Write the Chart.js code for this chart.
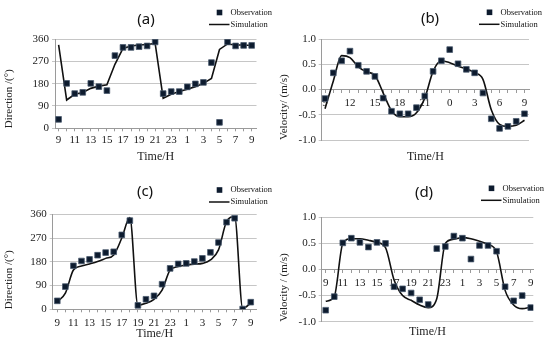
<!DOCTYPE html>
<html>
<head>
<meta charset="utf-8">
<script src="https://cdn.jsdelivr.net/npm/chart.js@4.4.0/dist/chart.umd.min.js"></script>
<style>
  html, body { margin: 0; padding: 0; background: #fff; }
  #wrap { position: relative; width: 550px; height: 352px; }
  canvas { position: absolute; }
</style>
</head>
<body>
<div id="wrap">
  <canvas id="chartA" width="275" height="176" style="left:0;top:0"></canvas>
  <canvas id="chartB" width="275" height="176" style="left:275px;top:0"></canvas>
  <canvas id="chartC" width="275" height="176" style="left:0;top:176px"></canvas>
  <canvas id="chartD" width="275" height="176" style="left:275px;top:176px"></canvas>
</div>
<script>
// hours from 9:00 to 9:00 next day
const hours = [9, 10, 11, 12, 13, 14, 15, 16, 17, 18, 19, 20, 21, 22, 23, 0, 1, 2, 3, 4, 5, 6, 7, 8, 9];

const yTicksDir = [0, 90, 180, 270, 360];
const yTicksVel = [-1.0, -0.5, 0.0, 0.5, 1.0];

// (a) direction
const obsA = [36, 181, 140, 145, 181, 168, 152, 293, 326, 326, 329, 332, 348, 140, 148, 148, 167, 179, 185, 265, 24, 348, 332, 334, 334];
const simA = [336, 114, 137, 144, 161, 170, 175, 258, 322, 332, 336, 338, 342, 121, 137, 148, 157, 168, 181, 201, 318, 340, 336, 336, 334];

// (b) velocity
const obsB = [-0.18, 0.33, 0.57, 0.76, 0.48, 0.36, 0.26, -0.17, -0.43, -0.48, -0.48, -0.36, -0.13, 0.36, 0.57, 0.79, 0.51, 0.40, 0.33, -0.07, -0.58, -0.77, -0.73, -0.63, -0.48];
const simB = [-0.38, 0.17, 0.67, 0.63, 0.45, 0.35, 0.28, -0.07, -0.42, -0.54, -0.54, -0.46, -0.17, 0.36, 0.57, 0.53, 0.46, 0.41, 0.33, 0.20, -0.40, -0.69, -0.73, -0.71, -0.61];

// (c) direction
const obsC = [32, 86, 165, 183, 189, 205, 215, 218, 282, 336, 15, 38, 51, 95, 155, 172, 174, 181, 193, 216, 253, 330, 345, 1, 27];
const simC = [29, 61, 149, 164, 172, 181, 193, 206, 270, 348, 16, 23, 38, 73, 149, 162, 168, 171, 174, 187, 225, 332, 351, 4, 23];

// (d) velocity
const obsD = [-0.78, -0.52, 0.51, 0.60, 0.52, 0.43, 0.52, 0.50, -0.33, -0.37, -0.45, -0.58, -0.67, 0.40, 0.44, 0.64, 0.60, 0.20, 0.46, 0.46, 0.35, -0.33, -0.60, -0.50, -0.73];
const simD = [-0.61, -0.52, 0.50, 0.59, 0.59, 0.56, 0.52, 0.42, -0.20, -0.50, -0.59, -0.68, -0.73, -0.56, 0.50, 0.58, 0.61, 0.59, 0.54, 0.48, 0.34, -0.40, -0.68, -0.75, -0.72];

const serif = '"Liberation Serif", "Times New Roman", serif';
const textColor = '#222';
const gridColor = '#c6c6c6';
const axisColor = '#9a9a9a';

// panel letter and the two-row legend in the top right corner
const decor = {
  id: 'decor',
  afterDraw(chart, args, o) {
    const ctx = chart.ctx;
    const ds = chart.data.datasets;
    ctx.save();
    ctx.fillStyle = '#111';
    ctx.textBaseline = 'middle';
    ctx.textAlign = 'center';
    ctx.font = '15px "Noto Sans"';
    ctx.fillText(o.title, o.tx, o.ty);

    ctx.textAlign = 'left';
    ctx.font = '8.5px ' + serif;
    ctx.fillStyle = '#0d1b2e';
    ctx.fillRect(o.lx + 10.5 - 2.8, o.ly - 2.8, 5.6, 5.6);
    ctx.fillStyle = '#111';
    ctx.fillText(ds[1].label, o.lx + 21.5, o.ly);
    ctx.strokeStyle = '#111';
    ctx.lineWidth = 1.5;
    ctx.beginPath();
    ctx.moveTo(o.lx, o.ly + 12);
    ctx.lineTo(o.lx + 20.5, o.ly + 12);
    ctx.stroke();
    ctx.fillText(ds[0].label, o.lx + 21.5, o.ly + 12);
    ctx.restore();
  }
};

function panel(id, p) {
  const vel = p.kind === 'vel';
  const xTicks = {
    autoSkip: false,
    maxRotation: 0,
    padding: p.xPad,
    color: textColor,
    font: { family: serif, size: 11 },
    callback: (v, i) => (i % p.step === 0 ? String(hours[i]) : '')
  };
  const scales = {
    x: {
      type: 'linear',
      min: p.xMin,
      max: p.xMax,
      afterBuildTicks: s => { s.ticks = hours.map((h, i) => ({ value: i })); },
      ticks: xTicks,
      grid: { drawOnChartArea: false, drawTicks: true, tickLength: 3, color: axisColor },
      border: { color: axisColor }
    },
    y: {
      min: vel ? -1 : 0,
      max: vel ? 1 : 360,
      afterBuildTicks: s => { s.ticks = (vel ? yTicksVel : yTicksDir).map(v => ({ value: v })); },
      ticks: {
        padding: p.yPad,
        color: textColor,
        font: { family: serif, size: 11 },
        callback: v => (vel ? v.toFixed(1) : String(v))
      },
      grid: { color: gridColor, tickLength: 3 },
      border: { color: axisColor },
      title: {
        display: true,
        text: p.yTitle,
        align: 'start',
        color: textColor,
        font: { family: serif, size: 11 },
        padding: { top: 3, bottom: 0 }
      },
      afterFit: s => { s.width = p.yWidth; }
    }
  };
  const xTitle = {
    display: true,
    text: 'Time/H',
    color: textColor,
    font: { family: serif, size: 12 },
    padding: { top: 0, bottom: 4 }
  };
  if (vel) {
    scales.x.position = { y: 0 };
    scales.x2 = {
      type: 'linear',
      position: 'bottom',
      min: p.xMin,
      max: p.xMax,
      display: true,
      ticks: { display: false },
      grid: { display: false },
      border: { display: false },
      title: xTitle,
      afterFit: s => { s.height = p.xHeight; }
    };
  } else {
    scales.x.title = xTitle;
    scales.x.afterFit = s => { s.height = p.xHeight; };
  }

  new Chart(document.getElementById(id), {
    type: 'line',
    data: {
      datasets: [
        {
          label: 'Simulation',
          data: p.sim.map((v, i) => ({ x: i, y: v })),
          borderColor: '#111',
          borderWidth: 1.6,
          pointRadius: 0,
          tension: 0,
          cubicInterpolationMode: p.smooth ? 'monotone' : 'default',
          order: 2
        },
        {
          label: 'Observation',
          data: p.obs.map((v, i) => ({ x: i, y: v })),
          showLine: false,
          pointStyle: 'rect',
          pointRadius: 4,
          backgroundColor: '#0d1b2e',
          borderColor: '#4a5a6e',
          borderWidth: 0.8,
          order: 1
        }
      ]
    },
    options: {
      responsive: false,
      animation: false,
      layout: { padding: p.pad },
      plugins: {
        legend: { display: false },
        tooltip: { enabled: false },
        decor: p.decor
      },
      scales: scales
    },
    plugins: [decor]
  });
}

panel('chartA', {
  kind: 'dir', obs: obsA, sim: simA, smooth: false, step: 2,
  xMin: -0.45, xMax: 24.6, xPad: 2, yPad: 3, yWidth: 55, xHeight: 39.9,
  yTitle: 'Direction /(°)',
  pad: { top: 39, right: 18.5, bottom: 7.8, left: 0 },
  decor: { title: '(a)', tx: 146, ty: 20, lx: 209, ly: 12.5 }
});

panel('chartB', {
  kind: 'vel', obs: obsB, sim: simB, smooth: true, step: 3,
  xMin: -0.4, xMax: 24.54, xPad: 4.4, yPad: 2.7, yWidth: 46.7, xHeight: 28.2,
  yTitle: 'Velocity/ (m/s)',
  pad: { top: 39, right: 21, bottom: 7.8, left: 0 },
  decor: { title: '(b)', tx: 155, ty: 19, lx: 204, ly: 12.3 }
});

panel('chartC', {
  kind: 'dir', obs: obsC, sim: simC, smooth: true, step: 2,
  xMin: -0.57, xMax: 24.74, xPad: 3.8, yPad: 3, yWidth: 52.7, xHeight: 35.4,
  yTitle: 'Direction /(°)',
  pad: { top: 38.3, right: 18.3, bottom: 7.3, left: 0 },
  decor: { title: '(c)', tx: 145, ty: 15.5, lx: 209, ly: 14 }
});

panel('chartD', {
  kind: 'vel', obs: obsD, sim: simD, smooth: true, step: 2,
  xMin: -0.47, xMax: 24.3, xPad: 3.8, yPad: 2.7, yWidth: 46.7, xHeight: 21.5,
  yTitle: 'Velocity / (m/s)',
  pad: { top: 41.3, right: 16.7, bottom: 8.8, left: 0 },
  decor: { title: '(d)', tx: 149, ty: 17, lx: 206, ly: 12.3 }
});
</script>
</body>
</html>
